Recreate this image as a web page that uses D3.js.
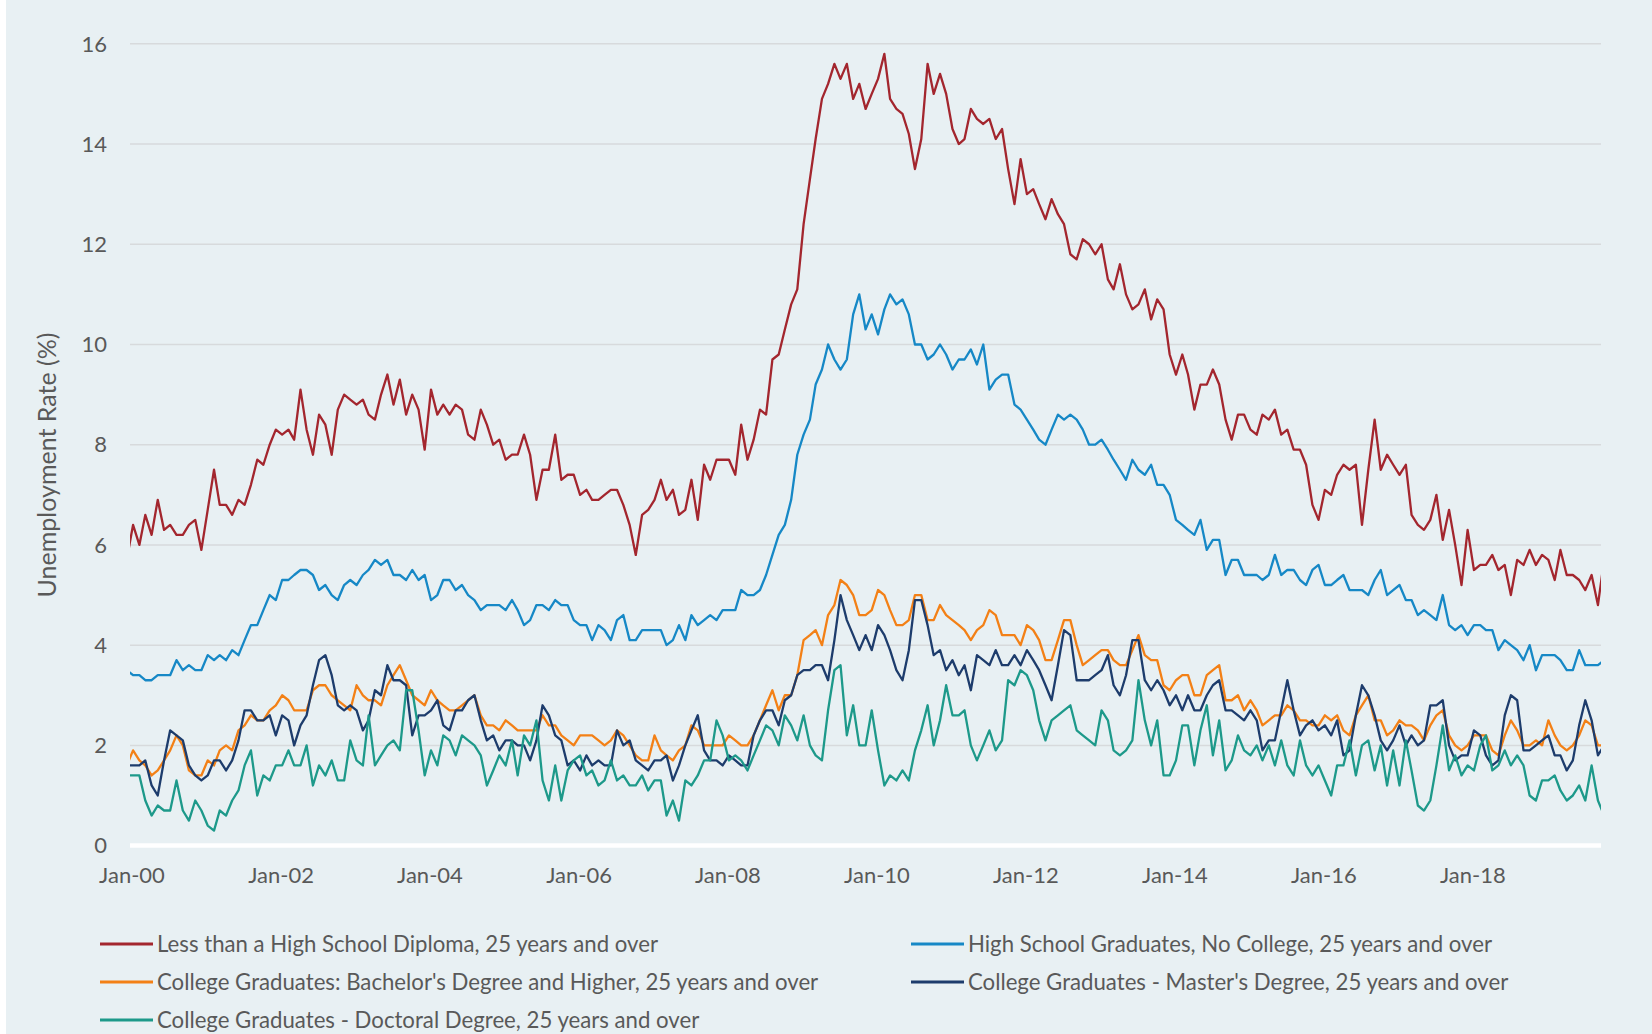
<!DOCTYPE html>
<html>
<head>
<meta charset="utf-8">
<script src="https://cdn.jsdelivr.net/npm/d3@7/dist/d3.min.js"></script>
<style>
  body { margin: 0; background: #ffffff; }
  text { font-family: Lato, "Open Sans", sans-serif; fill: #595959; }
</style>
</head>
<body>
<svg id="chart" width="1652" height="1034"></svg>
<script>
// monthly values, first point is Dec-99 (partly cut by the axis start), last is Oct-19
const firstMonth = new Date(1999, 11, 16)
const tickLabels = ['Jan-00', 'Jan-02', 'Jan-04', 'Jan-06', 'Jan-08', 'Jan-10', 'Jan-12', 'Jan-14', 'Jan-16', 'Jan-18']
const tickYears = [2000, 2002, 2004, 2006, 2008, 2010, 2012, 2014, 2016, 2018]
const yTicks = [0, 2, 4, 6, 8, 10, 12, 14, 16]

const seriesNames = [
  'Less than a High School Diploma, 25 years and over',
  'High School Graduates, No College, 25 years and over',
  "College Graduates: Bachelor's Degree and Higher, 25 years and over",
  "College Graduates - Master's Degree, 25 years and over",
  'College Graduates - Doctoral Degree, 25 years and over'
]
const seriesColors = ['#a3262e', '#1688c6', '#f38016', '#1d3c6c', '#1d998a']

const lessThanHS = [
  5.7, 6.4, 6.0, 6.6, 6.2, 6.9, 6.3, 6.4, 6.2, 6.2,
  6.4, 6.5, 5.9, 6.7, 7.5, 6.8, 6.8, 6.6, 6.9, 6.8,
  7.2, 7.7, 7.6, 8.0, 8.3, 8.2, 8.3, 8.1, 9.1, 8.3,
  7.8, 8.6, 8.4, 7.8, 8.7, 9.0, 8.9, 8.8, 8.9, 8.6,
  8.5, 9.0, 9.4, 8.8, 9.3, 8.6, 9.0, 8.7, 7.9, 9.1,
  8.6, 8.8, 8.6, 8.8, 8.7, 8.2, 8.1, 8.7, 8.4, 8.0,
  8.1, 7.7, 7.8, 7.8, 8.2, 7.8, 6.9, 7.5, 7.5, 8.2,
  7.3, 7.4, 7.4, 7.0, 7.1, 6.9, 6.9, 7.0, 7.1, 7.1,
  6.8, 6.4, 5.8, 6.6, 6.7, 6.9, 7.3, 6.9, 7.1, 6.6,
  6.7, 7.3, 6.5, 7.6, 7.3, 7.7, 7.7, 7.7, 7.4, 8.4,
  7.7, 8.1, 8.7, 8.6, 9.7, 9.8, 10.3, 10.8, 11.1, 12.4,
  13.3, 14.1, 14.9, 15.2, 15.6, 15.3, 15.6, 14.9, 15.2, 14.7,
  15.0, 15.3, 15.8, 14.9, 14.7, 14.6, 14.2, 13.5, 14.1, 15.6,
  15.0, 15.4, 15.0, 14.3, 14.0, 14.1, 14.7, 14.5, 14.4, 14.5,
  14.1, 14.3, 13.5, 12.8, 13.7, 13.0, 13.1, 12.8, 12.5, 12.9,
  12.6, 12.4, 11.8, 11.7, 12.1, 12.0, 11.8, 12.0, 11.3, 11.1,
  11.6, 11.0, 10.7, 10.8, 11.1, 10.5, 10.9, 10.7, 9.8, 9.4,
  9.8, 9.4, 8.7, 9.2, 9.2, 9.5, 9.2, 8.5, 8.1, 8.6,
  8.6, 8.3, 8.2, 8.6, 8.5, 8.7, 8.2, 8.3, 7.9, 7.9,
  7.6, 6.8, 6.5, 7.1, 7.0, 7.4, 7.6, 7.5, 7.6, 6.4,
  7.5, 8.5, 7.5, 7.8, 7.6, 7.4, 7.6, 6.6, 6.4, 6.3,
  6.5, 7.0, 6.1, 6.7, 6.0, 5.2, 6.3, 5.5, 5.6, 5.6,
  5.8, 5.5, 5.6, 5.0, 5.7, 5.6, 5.9, 5.6, 5.8, 5.7,
  5.3, 5.9, 5.4, 5.4, 5.3, 5.1, 5.4, 4.8, 5.7
]

const highSchool = [
  3.5, 3.4, 3.4, 3.3, 3.3, 3.4, 3.4, 3.4, 3.7, 3.5,
  3.6, 3.5, 3.5, 3.8, 3.7, 3.8, 3.7, 3.9, 3.8, 4.1,
  4.4, 4.4, 4.7, 5.0, 4.9, 5.3, 5.3, 5.4, 5.5, 5.5,
  5.4, 5.1, 5.2, 5.0, 4.9, 5.2, 5.3, 5.2, 5.4, 5.5,
  5.7, 5.6, 5.7, 5.4, 5.4, 5.3, 5.5, 5.3, 5.4, 4.9,
  5.0, 5.3, 5.3, 5.1, 5.2, 5.0, 4.9, 4.7, 4.8, 4.8,
  4.8, 4.7, 4.9, 4.7, 4.4, 4.5, 4.8, 4.8, 4.7, 4.9,
  4.8, 4.8, 4.5, 4.4, 4.4, 4.1, 4.4, 4.3, 4.1, 4.5,
  4.6, 4.1, 4.1, 4.3, 4.3, 4.3, 4.3, 4.0, 4.1, 4.4,
  4.1, 4.6, 4.4, 4.5, 4.6, 4.5, 4.7, 4.7, 4.7, 5.1,
  5.0, 5.0, 5.1, 5.4, 5.8, 6.2, 6.4, 6.9, 7.8, 8.2,
  8.5, 9.2, 9.5, 10.0, 9.7, 9.5, 9.7, 10.6, 11.0, 10.3,
  10.6, 10.2, 10.7, 11.0, 10.8, 10.9, 10.6, 10.0, 10.0, 9.7,
  9.8, 10.0, 9.8, 9.5, 9.7, 9.7, 9.9, 9.6, 10.0, 9.1,
  9.3, 9.4, 9.4, 8.8, 8.7, 8.5, 8.3, 8.1, 8.0, 8.3,
  8.6, 8.5, 8.6, 8.5, 8.3, 8.0, 8.0, 8.1, 7.9, 7.7,
  7.5, 7.3, 7.7, 7.5, 7.4, 7.6, 7.2, 7.2, 7.0, 6.5,
  6.4, 6.3, 6.2, 6.5, 5.9, 6.1, 6.1, 5.4, 5.7, 5.7,
  5.4, 5.4, 5.4, 5.3, 5.4, 5.8, 5.4, 5.5, 5.5, 5.3,
  5.2, 5.5, 5.6, 5.2, 5.2, 5.3, 5.4, 5.1, 5.1, 5.1,
  5.0, 5.3, 5.5, 5.0, 5.1, 5.2, 4.9, 4.9, 4.6, 4.7,
  4.6, 4.5, 5.0, 4.4, 4.3, 4.4, 4.2, 4.4, 4.4, 4.3,
  4.3, 3.9, 4.1, 4.0, 3.9, 3.7, 4.0, 3.5, 3.8, 3.8,
  3.8, 3.7, 3.5, 3.5, 3.9, 3.6, 3.6, 3.6, 3.7
]

const bachelors = [
  1.6, 1.9, 1.7, 1.6, 1.4, 1.5, 1.7, 1.9, 2.2, 2.0,
  1.5, 1.4, 1.4, 1.7, 1.6, 1.9, 2.0, 1.9, 2.3, 2.4,
  2.6, 2.5, 2.5, 2.7, 2.8, 3.0, 2.9, 2.7, 2.7, 2.7,
  3.1, 3.2, 3.2, 3.0, 2.9, 2.8, 2.7, 3.2, 3.0, 2.9,
  2.9, 2.8, 3.2, 3.4, 3.6, 3.3, 3.0, 2.9, 2.8, 3.1,
  2.9, 2.8, 2.7, 2.7, 2.8, 2.9, 3.0, 2.6, 2.4, 2.4,
  2.3, 2.5, 2.4, 2.3, 2.3, 2.3, 2.3, 2.6, 2.4, 2.4,
  2.2, 2.1, 2.0, 2.2, 2.2, 2.2, 2.1, 2.0, 2.1, 2.3,
  2.2, 2.0, 1.8, 1.7, 1.7, 2.2, 1.9, 1.8, 1.7, 1.9,
  2.0, 2.4, 2.3, 2.0, 2.0, 2.0, 2.0, 2.2, 2.1, 2.0,
  2.0, 2.2, 2.5, 2.8, 3.1, 2.7, 3.0, 3.0, 3.4, 4.1,
  4.2, 4.3, 4.0, 4.6, 4.8, 5.3, 5.2, 5.0, 4.6, 4.6,
  4.7, 5.1, 5.0, 4.7, 4.4, 4.4, 4.5, 5.0, 5.0, 4.5,
  4.5, 4.8, 4.6, 4.5, 4.4, 4.3, 4.1, 4.3, 4.4, 4.7,
  4.6, 4.2, 4.2, 4.2, 4.0, 4.4, 4.3, 4.1, 3.7, 3.7,
  4.1, 4.5, 4.5, 4.0, 3.6, 3.7, 3.8, 3.9, 3.9, 3.7,
  3.6, 3.6, 3.9, 4.2, 3.8, 3.7, 3.7, 3.2, 3.1, 3.3,
  3.4, 3.4, 3.0, 3.0, 3.4, 3.5, 3.6, 2.9, 2.9, 3.0,
  2.7, 2.9, 2.7, 2.4, 2.5, 2.6, 2.6, 2.8, 2.7, 2.5,
  2.5, 2.4, 2.4, 2.6, 2.5, 2.6, 2.3, 2.2, 2.6, 2.8,
  3.0, 2.5, 2.5, 2.2, 2.3, 2.5, 2.4, 2.4, 2.3, 2.1,
  2.4, 2.6, 2.7, 2.2, 2.0, 1.9, 2.0, 2.2, 2.2, 2.2,
  1.9, 1.8, 2.2, 2.5, 2.3, 2.0, 2.0, 2.1, 2.0, 2.5,
  2.2, 2.0, 1.9, 2.0, 2.2, 2.5, 2.4, 2.0, 2.0
]

const masters = [
  1.6, 1.6, 1.6, 1.7, 1.2, 1.0, 1.7, 2.3, 2.2, 2.1,
  1.6, 1.4, 1.3, 1.4, 1.7, 1.7, 1.5, 1.7, 2.1, 2.7,
  2.7, 2.5, 2.5, 2.6, 2.2, 2.6, 2.5, 2.0, 2.4, 2.6,
  3.2, 3.7, 3.8, 3.4, 2.8, 2.7, 2.8, 2.7, 2.3, 2.5,
  3.1, 3.0, 3.6, 3.3, 3.3, 3.2, 2.2, 2.6, 2.6, 2.7,
  2.9, 2.4, 2.3, 2.7, 2.7, 2.9, 3.0, 2.5, 2.1, 2.2,
  1.9, 2.1, 2.1, 2.0, 2.0, 1.7, 2.1, 2.8, 2.6, 2.2,
  2.1, 1.6, 1.7, 1.5, 1.8, 1.6, 1.7, 1.6, 1.6, 2.3,
  2.0, 2.1, 1.7, 1.6, 1.5, 1.7, 1.7, 1.8, 1.3, 1.6,
  2.0, 2.3, 2.6, 1.9, 1.7, 1.7, 1.6, 1.8, 1.7, 1.6,
  1.6, 2.2, 2.5, 2.7, 2.7, 2.4, 2.9, 3.0, 3.4, 3.5,
  3.5, 3.6, 3.6, 3.3, 4.1, 5.0, 4.5, 4.2, 3.9, 4.2,
  3.9, 4.4, 4.2, 3.9, 3.5, 3.3, 3.9, 4.9, 4.9, 4.4,
  3.8, 3.9, 3.5, 3.7, 3.4, 3.6, 3.1, 3.8, 3.7, 3.6,
  3.9, 3.6, 3.6, 3.8, 3.6, 3.9, 3.7, 3.5, 3.2, 2.9,
  3.6, 4.3, 4.2, 3.3, 3.3, 3.3, 3.4, 3.5, 3.8, 3.2,
  3.0, 3.4, 4.1, 4.1, 3.3, 3.1, 3.3, 3.1, 2.8, 3.0,
  2.7, 3.0, 2.7, 2.7, 3.0, 3.2, 3.3, 2.7, 2.7, 2.6,
  2.5, 2.7, 2.5, 1.9, 2.1, 2.1, 2.7, 3.3, 2.7, 2.2,
  2.4, 2.5, 2.3, 2.4, 2.2, 2.5, 1.8, 1.9, 2.6, 3.2,
  3.0, 2.6, 2.1, 1.9, 2.1, 2.4, 2.0, 2.2, 2.0, 2.1,
  2.8, 2.8, 2.9, 2.0, 1.7, 1.8, 1.8, 2.3, 2.2, 1.8,
  1.6, 1.7, 2.6, 3.0, 2.9, 1.9, 1.9, 2.0, 2.1, 2.2,
  1.8, 1.8, 1.5, 1.7, 2.4, 2.9, 2.5, 1.8, 2.0
]

const doctoral = [
  1.4, 1.4, 1.4, 0.9, 0.6, 0.8, 0.7, 0.7, 1.3, 0.7,
  0.5, 0.9, 0.7, 0.4, 0.3, 0.7, 0.6, 0.9, 1.1, 1.6,
  1.9, 1.0, 1.4, 1.3, 1.6, 1.6, 1.9, 1.6, 1.6, 2.0,
  1.2, 1.6, 1.4, 1.7, 1.3, 1.3, 2.1, 1.7, 1.6, 2.6,
  1.6, 1.8, 2.0, 2.1, 1.9, 3.1, 3.1, 2.3, 1.4, 1.9,
  1.6, 2.2, 2.1, 1.8, 2.2, 2.1, 2.0, 1.8, 1.2, 1.5,
  1.8, 1.6, 2.1, 1.4, 2.2, 2.0, 2.5, 1.3, 0.9, 1.6,
  0.9, 1.5, 1.7, 1.8, 1.4, 1.5, 1.2, 1.3, 1.7, 1.3,
  1.4, 1.2, 1.2, 1.4, 1.1, 1.3, 1.3, 0.6, 0.9, 0.5,
  1.3, 1.2, 1.4, 1.7, 1.7, 2.5, 2.2, 1.7, 1.8, 1.7,
  1.5, 1.8, 2.1, 2.4, 2.3, 2.0, 2.6, 2.4, 2.1, 2.6,
  2.0, 1.8, 1.7, 2.7, 3.5, 3.6, 2.2, 2.8, 2.0, 2.0,
  2.7, 1.9, 1.2, 1.4, 1.3, 1.5, 1.3, 1.9, 2.3, 2.8,
  2.0, 2.5, 3.2, 2.6, 2.6, 2.7, 2.0, 1.7, 2.0, 2.3,
  1.9, 2.1, 3.3, 3.2, 3.5, 3.4, 3.1, 2.5, 2.1, 2.5,
  2.6, 2.7, 2.8, 2.3, 2.2, 2.1, 2.0, 2.7, 2.5, 1.9,
  1.8, 1.9, 2.1, 3.3, 2.5, 2.0, 2.5, 1.4, 1.4, 1.7,
  2.4, 2.4, 1.6, 2.3, 2.8, 1.8, 2.5, 1.5, 1.7, 2.2,
  1.9, 1.8, 2.0, 1.7, 2.0, 1.6, 2.1, 1.6, 1.4, 2.1,
  1.6, 1.4, 1.6, 1.3, 1.0, 1.6, 1.6, 2.1, 1.4, 2.0,
  2.1, 1.5, 2.0, 1.2, 1.9, 1.2, 2.1, 1.5, 0.8, 0.7,
  0.9, 1.6, 2.4, 1.5, 1.8, 1.4, 1.6, 1.5, 2.0, 2.2,
  1.5, 1.6, 1.9, 1.6, 1.8, 1.6, 1.0, 0.9, 1.3, 1.3,
  1.4, 1.1, 0.9, 1.0, 1.2, 0.9, 1.6, 0.9, 0.6
]

const allSeries = [lessThanHS, highSchool, bachelors, masters, doctoral]

const svg = d3.select('#chart')
const width = 1652
const height = 1034

const plot = { left: 130, right: 1601, top: 43.8, bottom: 845.6 }

svg.append('rect')
  .attr('x', 6)
  .attr('y', 0)
  .attr('width', width - 6)
  .attr('height', height)
  .attr('fill', '#e8f0f3')

const xScale = d3.scaleTime()
  .domain([new Date(2000, 0, 1), new Date(2019, 9, 1)])
  .range([plot.left, plot.right])

const yScale = d3.scaleLinear()
  .domain([0, 16])
  .range([plot.bottom, plot.top])

svg.append('clipPath')
  .attr('id', 'plotclip')
  .append('rect')
  .attr('x', plot.left)
  .attr('y', 0)
  .attr('width', plot.right - plot.left)
  .attr('height', height)

// horizontal grid lines
svg.append('g')
  .selectAll('line')
  .data(yTicks.filter(d => d > 0))
  .enter()
  .append('line')
  .attr('x1', plot.left)
  .attr('x2', plot.right)
  .attr('y1', d => yScale(d))
  .attr('y2', d => yScale(d))
  .attr('stroke', '#d7dadc')
  .attr('stroke-width', 1.5)

// x axis line (white)
svg.append('line')
  .attr('x1', plot.left)
  .attr('x2', plot.right)
  .attr('y1', yScale(0))
  .attr('y2', yScale(0))
  .attr('stroke', '#ffffff')
  .attr('stroke-width', 4.5)

// y tick labels
svg.append('g')
  .selectAll('text')
  .data(yTicks)
  .enter()
  .append('text')
  .attr('x', 107)
  .attr('y', d => yScale(d))
  .attr('dy', '0.35em')
  .attr('text-anchor', 'end')
  .style('font-size', '22px')
  .text(d => d)

// x tick labels
svg.append('g')
  .selectAll('text')
  .data(tickYears)
  .enter()
  .append('text')
  .attr('x', d => xScale(new Date(d, 0, 1)) + 2)
  .attr('y', 875)
  .attr('dy', '0.35em')
  .attr('text-anchor', 'middle')
  .style('font-size', '22px')
  .text((d, i) => tickLabels[i])

// y axis title
svg.append('text')
  .attr('transform', 'translate(47, 465) rotate(-90)')
  .attr('dy', '0.35em')
  .attr('text-anchor', 'middle')
  .style('font-size', '25px')
  .text('Unemployment Rate (%)')

const line = d3.line()
  .x((d, i) => xScale(d3.timeMonth.offset(firstMonth, i)))
  .y(d => yScale(d))

svg.append('g')
  .attr('clip-path', 'url(#plotclip)')
  .selectAll('path')
  .data(allSeries)
  .enter()
  .append('path')
  .attr('d', d => line(d))
  .attr('fill', 'none')
  .attr('stroke', (d, i) => seriesColors[i])
  .attr('stroke-width', 2.3)
  .attr('stroke-linejoin', 'round')

// legend, two columns, filled row by row
const legendCols = [100, 911]
const legendRows = [944, 982, 1020]

const legend = svg.append('g')
  .selectAll('g')
  .data(seriesNames)
  .enter()
  .append('g')
  .attr('transform', (d, i) => `translate(${legendCols[i % 2]}, ${legendRows[Math.floor(i / 2)]})`)

legend.append('line')
  .attr('x1', 0)
  .attr('x2', 53)
  .attr('stroke', (d, i) => seriesColors[i])
  .attr('stroke-width', 3)

legend.append('text')
  .attr('x', 57)
  .attr('dy', '0.35em')
  .style('font-size', '22.2px')
  .text(d => d)
</script>
</body>
</html>
